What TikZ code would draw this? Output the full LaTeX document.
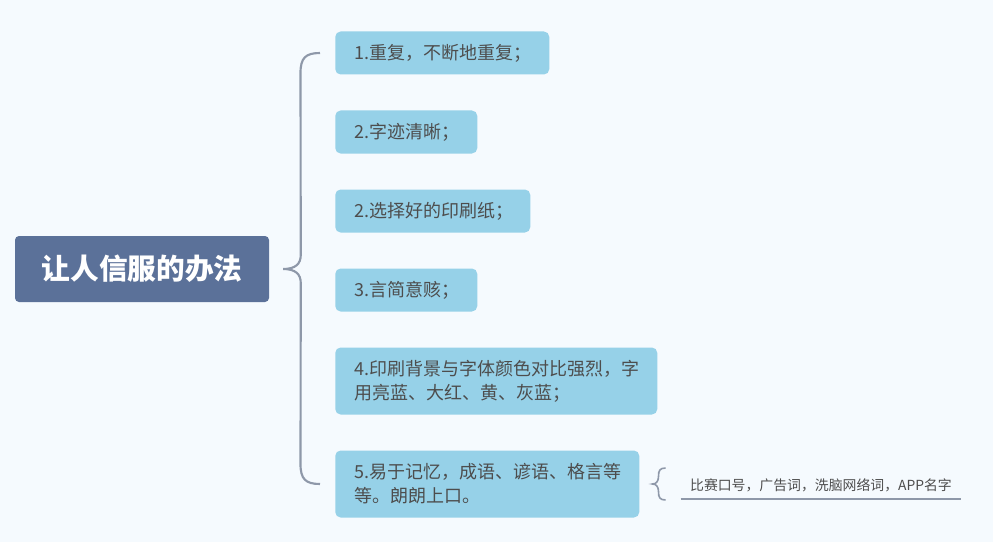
\documentclass[tikz,border=0pt]{standalone}
\usepackage{fontspec}
\setmainfont{Noto Sans CJK SC}
\usetikzlibrary{calc}

\definecolor{bgcol}{HTML}{F5FAFE}
\definecolor{rootcol}{HTML}{5B7199}
\definecolor{itemcol}{HTML}{96D1E8}
\definecolor{itemtext}{HTML}{4D4D4D}
\definecolor{linecol}{HTML}{8E98A9}

\tikzset{
    rootbox/.style={fill=rootcol, rounded corners=3pt, text=white,
        minimum width=190.5pt, minimum height=49.5pt,
        font=\fontsize{21.5}{24}\selectfont\bfseries},
    itembox/.style={fill=itemcol, rounded corners=4pt, text=itemtext,
        anchor=west, align=left, inner xsep=14.25pt, inner ysep=0pt,
        minimum height=32.25pt, font=\fontsize{13.5}{18}\selectfont},
    brace/.style={linecol, line width=1.6pt},
}

\begin{document}
\begin{tikzpicture}[x=0.75pt, y=-0.75pt]
                \useasboundingbox[fill=bgcol] (0,0) rectangle (993,542);
                \node[rootbox] (root) at (142,269) {让人信服的办法};
                \node[itembox, text width=132pt] (c1) at (335,53) {1.重复，不断地重复；};
                \node[itembox, text width=78pt] (c2) at (335,132) {2.字迹清晰；};
                \node[itembox, text width=117.75pt] (c3) at (335,211) {2.选择好的印刷纸；};
                \node[itembox, text width=78pt] (c4) at (335,290) {3.言简意赅；};
                \node[itembox, text width=213pt, minimum height=50.25pt] (c5) at (335,381)
                    {4.印刷背景与字体颜色对比强烈，字\\用亮蓝、大红、黄、灰蓝；};
                \node[itembox, text width=199.5pt, minimum height=50.25pt] (c6) at (335,484)
                    {5.易于记忆，成语、谚语、格言等\\等。朗朗上口。};
                \node[text=itemtext, font=\fontsize{10.4}{12}\selectfont, inner sep=0pt,
                    minimum width=210pt, minimum height=21pt] (note) at (821,485)
                    {比赛口号，广告词，洗脑网络词，APP名字};
                % big brace from the root to the items
                \coordinate (tip) at ($(root.east)+(14,0)$);
                \coordinate (top) at ($(c1.west)+(-15,0)$);
                \coordinate (bot) at ($(c6.west)+(-15,0)$);
                \draw[brace] (top) .. controls ($(top)+(-14.5,0)$) and ($(top)+(-19.5,5)$) .. ($(top)+(-19.5,20)$)
                    -- ($(tip)+(17.5,-14)$) .. controls ($(tip)+(17.5,-5)$) and ($(tip)+(12,0)$) .. (tip)
                    .. controls ($(tip)+(12,0)$) and ($(tip)+(17.5,5)$) .. ($(tip)+(17.5,14)$)
                    -- ($(bot)+(-19.5,-20)$) .. controls ($(bot)+(-19.5,-5)$) and ($(bot)+(-14.5,0)$) .. (bot);
                % small brace to the note
                \coordinate (ntip) at ($(c6.east)+(13,0)$);
                \draw[brace, line width=1.2pt] ($(ntip)+(13,-16)$) .. controls ($(ntip)+(7,-16)$) and ($(ntip)+(6,-13)$) .. ($(ntip)+(6,-8)$)
                    .. controls ($(ntip)+(6,-3)$) and ($(ntip)+(4,0)$) .. (ntip)
                    .. controls ($(ntip)+(4,0)$) and ($(ntip)+(6,3)$) .. ($(ntip)+(6,8)$)
                    .. controls ($(ntip)+(6,13)$) and ($(ntip)+(7,16)$) .. ($(ntip)+(13,16)$);
                \draw[linecol, line width=1.5pt] (note.south west) -- (note.south east);
            \end{tikzpicture}
\end{document}
